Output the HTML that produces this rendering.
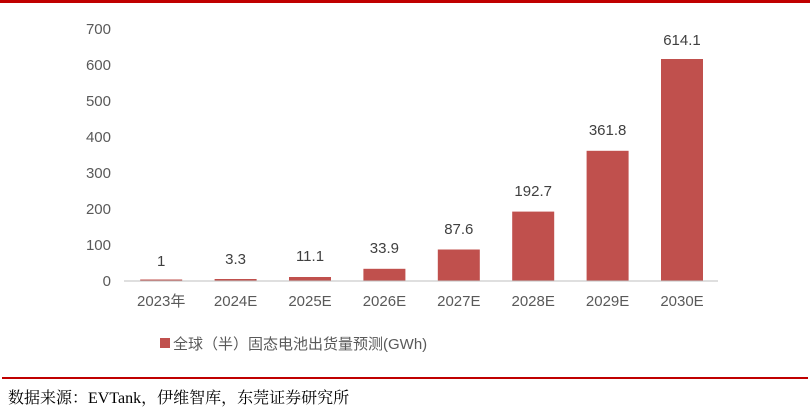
<!DOCTYPE html>
<html><head><meta charset="utf-8"><style>
body{margin:0;background:#fff}
svg{display:block}
text{font-family:"Liberation Sans","Noto Sans CJK SC",sans-serif}
</style></head><body>
<svg width="810" height="408" xmlns="http://www.w3.org/2000/svg">
<rect x="0" y="0" width="810" height="3" fill="#c00000"/>
<g font-size="15" fill="#595959" text-anchor="end">
<text x="111" y="286">0</text>
<text x="111" y="250">100</text>
<text x="111" y="214">200</text>
<text x="111" y="178">300</text>
<text x="111" y="142">400</text>
<text x="111" y="106">500</text>
<text x="111" y="70">600</text>
<text x="111" y="34">700</text>
</g>
<g fill="#c0504d">
<rect x="140.2" y="279.5" width="42" height="1.5"/>
<rect x="214.6" y="279" width="42" height="2"/>
<rect x="289" y="277" width="42" height="4"/>
<rect x="363.4" y="268.8" width="42" height="12.2"/>
<rect x="437.8" y="249.5" width="42" height="31.5"/>
<rect x="512.2" y="211.6" width="42" height="69.4"/>
<rect x="586.6" y="150.8" width="42" height="130.2"/>
<rect x="661" y="59" width="42" height="222"/>
</g>
<line x1="124" y1="281" x2="718" y2="281" stroke="#bfbfbf" stroke-width="1"/>
<g font-size="15" fill="#404040" text-anchor="middle">
<text x="161.2" y="266">1</text>
<text x="235.6" y="264">3.3</text>
<text x="310" y="261">11.1</text>
<text x="384.4" y="253">33.9</text>
<text x="458.8" y="234">87.6</text>
<text x="533.2" y="196">192.7</text>
<text x="607.6" y="135">361.8</text>
<text x="682" y="45">614.1</text>
</g>
<g font-size="15" fill="#595959" text-anchor="middle">
<text x="161.2" y="306">2023年</text>
<text x="235.6" y="306">2024E</text>
<text x="310" y="306">2025E</text>
<text x="384.4" y="306">2026E</text>
<text x="458.8" y="306">2027E</text>
<text x="533.2" y="306">2028E</text>
<text x="607.6" y="306">2029E</text>
<text x="682" y="306">2030E</text>
</g>
<rect x="160" y="338" width="10" height="10" fill="#c0504d"/>
<text x="173" y="349" font-size="15" fill="#595959">全球（半）固态电池出货量预测(GWh)</text>
<rect x="2" y="377" width="806" height="2" fill="#c00000"/>
<text x="8" y="403" font-size="16" fill="#000" style="font-family:'Liberation Serif','Noto Serif CJK SC',serif">数据来源：EVTank，伊维智库，东莞证券研究所</text>
</svg>
</body></html>
